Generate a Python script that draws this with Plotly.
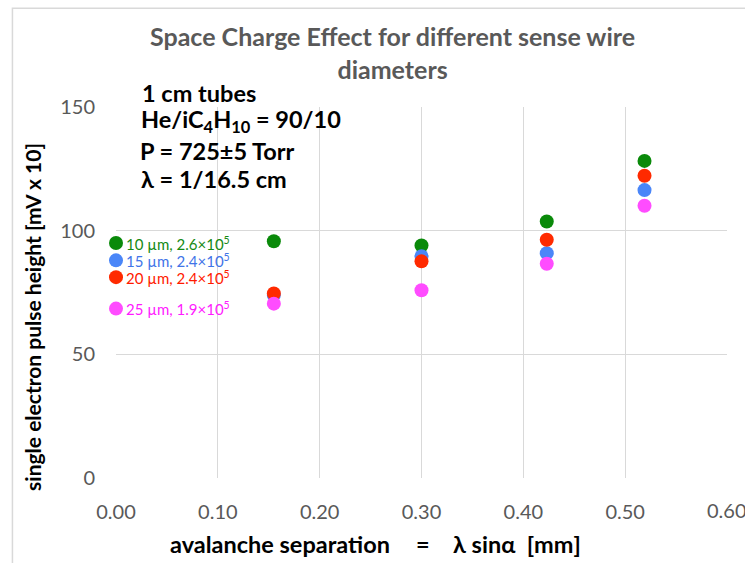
import plotly.graph_objects as go

# Avalanche separation (lambda * sin(alpha)) in mm
separation = [0.0, 0.155, 0.30, 0.423, 0.519]

# Single electron pulse height [mV x 10] for each sense wire diameter
h_10um = [95.0, 95.7, 94.0, 103.7, 128.2]
h_15um = [88.0, 74.0, 89.7, 90.9, 116.4]
h_20um = [81.2, 74.6, 87.6, 96.3, 122.2]
h_25um = [68.5, 70.5, 75.9, 86.6, 110.1]

series_names = ["10 µm, 2.6×10<sup>5</sup>", "15 µm, 2.4×10<sup>5</sup>",
                "20 µm, 2.4×10<sup>5</sup>", "25 µm, 1.9×10<sup>5</sup>"]
series_values = [h_10um, h_15um, h_20um, h_25um]
marker_colors = ["#0A8A0A", "#4A86F8", "#FF2A00", "#FF4CFF"]
text_colors = ["#148A14", "#3F74E8", "#FF1A00", "#FF1AFF"]

x_ticks = [0.0, 0.1, 0.2, 0.3, 0.4, 0.5, 0.6]
x_tick_labels = ["0.00", "0.10", "0.20", "0.30", "0.40", "0.50", "0.60"]
y_ticks = [0, 50, 100, 150]

W, H = 745, 563
L, R, T, B = 116, 18.3, 106.5, 84.5
PW, PH = W - L - R, H - T - B


def px(x):
    return (x - L) / PW


def py(y):
    return (H - B - y) / PH


FONT = "Lato"
TICK_FONT = dict(family=FONT, size=20, color="#595959")

fig = go.Figure()
for name, vals, col in zip(series_names, series_values, marker_colors):
    fig.add_trace(go.Scatter(
        x=separation, y=vals, mode="markers", name=name,
        marker=dict(size=14, color=col, line=dict(width=0)),
        showlegend=False, cliponaxis=False,
    ))

annotations = []
# Labels beside the first point of each series
for name, vals, col in zip(series_names, series_values, text_colors):
    annotations.append(dict(
        x=separation[0], y=vals[0], xref="x", yref="y", text=name,
        showarrow=False, xanchor="left", yanchor="middle", xshift=8,
        font=dict(family=FONT, size=15, color=col),
    ))

# Last x tick label runs past the right edge of the page, so it is placed by hand
annotations.append(dict(
    x=x_ticks[-1], y=py(511), xref="x", yref="paper", text=x_tick_labels[-1],
    showarrow=False, xanchor="center", yanchor="middle", font=TICK_FONT,
))

# Title
annotations.append(dict(
    x=px(392), y=py(52), xref="paper", yref="paper",
    text="<b>Space Charge Effect for different sense wire<br>diameters</b>",
    showarrow=False, xanchor="center", yanchor="middle", align="center",
    font=dict(family=FONT, size=25, color="#595959"),
))

# Experimental conditions
conditions = [
    ("1 cm tubes", 140, 92),
    ("He/iC<sub>4</sub>H<sub>10</sub> = 90/10", 139, 121),
    ("P = 725±5 Torr", 138, 151),
    ("λ = 1/16.5 cm", 139, 179),
]
for txt, xp, yp in conditions:
    annotations.append(dict(
        x=px(xp), y=py(yp), xref="paper", yref="paper", text="<b>" + txt + "</b>",
        showarrow=False, xanchor="left", yanchor="middle",
        font=dict(family=FONT, size=23.5, color="#000000"),
    ))

# X axis title, in three pieces spaced apart
x_title_parts = [
    ("avalanche separation", 168, "left"),
    ("=", 423, "center"),
    ("λ sinα  [mm]", 583, "right"),
]
for txt, xp, anc in x_title_parts:
    annotations.append(dict(
        x=px(xp), y=py(545), xref="paper", yref="paper",
        text="<b>" + txt + "</b>",
        showarrow=False, xanchor=anc, yanchor="middle",
        font=dict(family=FONT, size=23.5, color="#000000"),
    ))

# Y axis title
annotations.append(dict(
    x=px(33), y=py(317), xref="paper", yref="paper",
    text="<b>single electron pulse height [mV x 10]</b>",
    showarrow=False, xanchor="center", yanchor="middle", textangle=-90,
    font=dict(family=FONT, size=21, color="#000000"),
))

fig.update_layout(
    width=W, height=H, autosize=False,
    margin=dict(l=L, r=R, t=T, b=B),
    paper_bgcolor="white", plot_bgcolor="white",
    annotations=annotations,
    shapes=[dict(type="rect", xref="paper", yref="paper",
                 x0=px(12.5), y0=py(600), x1=px(780), y1=py(7.5),
                 line=dict(color="#D9D9D9", width=1.5), layer="below")],
    xaxis=dict(
        range=[0, 0.6], tickvals=x_ticks,
        ticktext=x_tick_labels[:-1] + [""],
        showgrid=True, gridcolor="#D9D9D9", gridwidth=1,
        zeroline=False, showline=False, ticks="",
        ticklabelstandoff=20,
        tickfont=TICK_FONT,
    ),
    yaxis=dict(
        range=[0, 150], tickvals=y_ticks,
        showgrid=True, gridcolor="#D9D9D9", gridwidth=1,
        zeroline=False, showline=False, ticks="",
        ticklabelstandoff=20,
        tickfont=TICK_FONT,
    ),
)

fig.write_html("out.html")
